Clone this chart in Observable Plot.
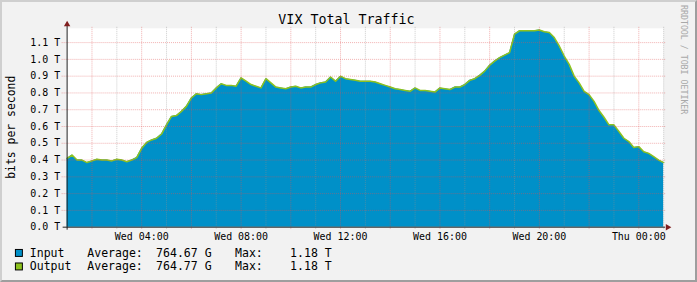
<!DOCTYPE html>
<html><head><meta charset="utf-8">
<script src="https://cdn.jsdelivr.net/npm/d3@7"></script>
<script src="https://cdn.jsdelivr.net/npm/@observablehq/plot@0.6"></script>
<style>
html,body{margin:0;padding:0;background:#fff;}
#chart{position:relative;width:697px;height:282px;box-sizing:border-box;background:#F2F2F2;
 border-top:2px solid #CFCFCF;border-left:2px solid #CFCFCF;border-right:2px solid #9E9E9E;border-bottom:2px solid #9E9E9E;}
#chart svg{position:absolute;left:-2px;top:-2px;}
</style></head><body><div id="chart"></div>
<script>
// ---- data (values in Tbit/s), sampled every 12 minutes from Wed 01:00 to Thu 01:00 ----
const startMinute = 60;      // minutes after Wed 00:00
const stepMinutes = 12;
const inputT = [
0.41,0.43,0.40,0.40,0.385,0.395,0.405,0.40,0.40,0.395,
0.405,0.40,0.39,0.40,0.415,0.47,0.505,0.52,0.53,0.555,
0.61,0.66,0.665,0.69,0.72,0.77,0.795,0.79,0.795,0.80,
0.83,0.855,0.845,0.845,0.84,0.89,0.87,0.85,0.84,0.83,
0.885,0.86,0.835,0.83,0.825,0.835,0.84,0.83,0.835,0.835,
0.85,0.86,0.865,0.895,0.87,0.90,0.885,0.88,0.875,0.87,
0.87,0.87,0.865,0.855,0.845,0.835,0.825,0.82,0.815,0.81,
0.83,0.815,0.815,0.81,0.805,0.83,0.825,0.82,0.835,0.835,
0.85,0.875,0.885,0.905,0.93,0.965,0.99,1.01,1.025,1.04,
1.15,1.17,1.17,1.17,1.17,1.175,1.165,1.16,1.13,1.08,
1.02,0.97,0.90,0.86,0.81,0.79,0.75,0.695,0.655,0.61,
0.61,0.57,0.53,0.51,0.475,0.48,0.45,0.44,0.42,0.40,
0.385];
const outputT = [
0.41,0.43,0.40,0.40,0.385,0.395,0.405,0.40,0.40,0.395,
0.405,0.40,0.39,0.40,0.415,0.47,0.505,0.52,0.53,0.555,
0.61,0.66,0.665,0.69,0.72,0.77,0.795,0.79,0.795,0.80,
0.83,0.855,0.845,0.845,0.84,0.89,0.87,0.85,0.84,0.83,
0.885,0.86,0.835,0.83,0.825,0.835,0.84,0.83,0.835,0.835,
0.85,0.86,0.865,0.895,0.87,0.90,0.885,0.88,0.875,0.87,
0.87,0.87,0.865,0.855,0.845,0.835,0.825,0.82,0.815,0.81,
0.83,0.815,0.815,0.81,0.805,0.83,0.825,0.82,0.835,0.835,
0.85,0.875,0.885,0.905,0.93,0.965,0.99,1.01,1.025,1.04,
1.15,1.17,1.17,1.17,1.17,1.175,1.165,1.16,1.13,1.08,
1.02,0.97,0.90,0.86,0.81,0.79,0.75,0.695,0.655,0.61,
0.61,0.57,0.53,0.51,0.475,0.48,0.45,0.44,0.42,0.40,
0.385];
const seriesNames = ["Input", "Output"];
const seriesAverage = ["764.67 G", "764.77 G"];
const seriesMax = ["1.18 T", "1.18 T"];
const yTicks = [0.0,0.1,0.2,0.3,0.4,0.5,0.6,0.7,0.8,0.9,1.0,1.1];
const yMax = 1.185;
const domainHours = [1, 25];
const labelHours = [4, 8, 12, 16, 20, 24];
const majorGridHours = [2,4,6,8,10,12,14,16,18,20,22,24];
const minorGridHours = [3,5,7,9,11,13,15,17,19,21,23,25];
const titleText = "VIX Total Traffic";
const yLabelText = "bits per second";
const watermarkText = "RRDTOOL / TOBI OETIKER";

// ---- build ----
const base = Date.UTC(2024, 0, 3); // a Wednesday
const atMinute = m => new Date(base + m * 60000);
const atHour = h => atMinute(h * 60);
const data = inputT.map((v, i) => ({t: atMinute(startMinute + i * stepMinutes), input: v, output: outputT[i]}));
const xDomain = domainHours.map(atHour);
const FONT = "'DejaVu Sans Mono', monospace";

const svg = Plot.plot({
  width: 697, height: 282,
  marginLeft: 67, marginRight: 30, marginTop: 28, marginBottom: 54,
  style: {background: "transparent", fontFamily: FONT, fontSize: "10px", color: "#000", overflow: "visible"},
  x: {type: "utc", domain: xDomain},
  y: {domain: [0, yMax]},
  marks: [
    Plot.frame({fill: "#FFFFFF", stroke: "none"}),
    Plot.areaY(data, {x: "t", y: "input", fill: "#0090C8"}),
    Plot.lineY(data, {x: "t", y: "output", stroke: "#8DC21E", strokeWidth: 1.5}),
    Plot.ruleX(minorGridHours.map(atHour), {stroke: "#8F8F8F", strokeOpacity: 0.45, strokeDasharray: "1,1", insetTop: -1, insetBottom: -3}),
    Plot.ruleX(majorGridHours.map(atHour), {stroke: "#E05050", strokeOpacity: 0.45, strokeDasharray: "1,1", insetTop: -1, insetBottom: -3}),
    Plot.ruleY(yTicks.filter(d => d > 0), {stroke: "#E05050", strokeOpacity: 0.45, strokeDasharray: "1,1", insetLeft: -5, insetRight: -2}),
    Plot.ruleY([0], {stroke: "#1F1F1F", insetLeft: -4, insetRight: -2}),
    Plot.ruleX([xDomain[0]], {stroke: "#1F1F1F", insetTop: -3, insetBottom: -3}),
    Plot.dot([{x: xDomain[0], y: yMax}], {x: "x", y: "y", symbol: "triangle", r: 2.4, fill: "#801F1F", stroke: "none", dy: -4}),
    Plot.dot([{x: xDomain[1], y: 0}], {x: "x", y: "y", symbol: "triangle", r: 2.4, fill: "#801F1F", stroke: "none", dx: 4, rotate: 90}),
    Plot.axisY({ticks: yTicks, tickFormat: d => d.toFixed(1) + " T", tickSize: 0, tickPadding: 7, label: null}),
    Plot.axisX({ticks: labelHours.map(atHour), tickFormat: d3.utcFormat("%a %H:%M"), tickSize: 0, tickPadding: 6, label: null})
  ]
});

const s = d3.select(svg);
function addText(x, y, str, size, opts = {}) {
  const t = s.append("text").attr("x", x).attr("y", y).text(str)
    .style("font-family", FONT).style("font-size", size + "px")
    .style("fill", opts.fill || "#000").style("text-anchor", opts.anchor || "start")
    .style("white-space", "pre");
  if (opts.transform) t.attr("transform", opts.transform).attr("x", 0).attr("y", 0);
  if (opts.baseline) t.style("dominant-baseline", opts.baseline);
  return t;
}
addText(348.5, 23.8, titleText, 13.4, {anchor: "middle"});
addText(0, 0, yLabelText, 11.5, {anchor: "middle", baseline: "central", transform: "translate(11,128) rotate(-90)"});
addText(0, 0, watermarkText, 8.3, {anchor: "middle", baseline: "central", fill: "#A8A8A8", transform: "translate(688,60) rotate(90)"});

const legendColors = ["#0090C8", "#8DC21E"];
const rowBase = [258.4, 272];
seriesNames.forEach((name, i) => {
  s.append("rect").attr("x", 15.5).attr("y", rowBase[i] - 7.5).attr("width", 7).attr("height", 7)
    .attr("fill", legendColors[i]).attr("stroke", "#000").attr("stroke-width", 1);
  addText(30, rowBase[i], name, 11.6);
  addText(87.8, rowBase[i], "Average:", 11.6);
  addText(157, rowBase[i], seriesAverage[i], 11.6);
  addText(236.4, rowBase[i], "Max:", 11.6);
  addText(291.8, rowBase[i], seriesMax[i], 11.6);
});

document.getElementById("chart").appendChild(svg);
</script></body></html>
